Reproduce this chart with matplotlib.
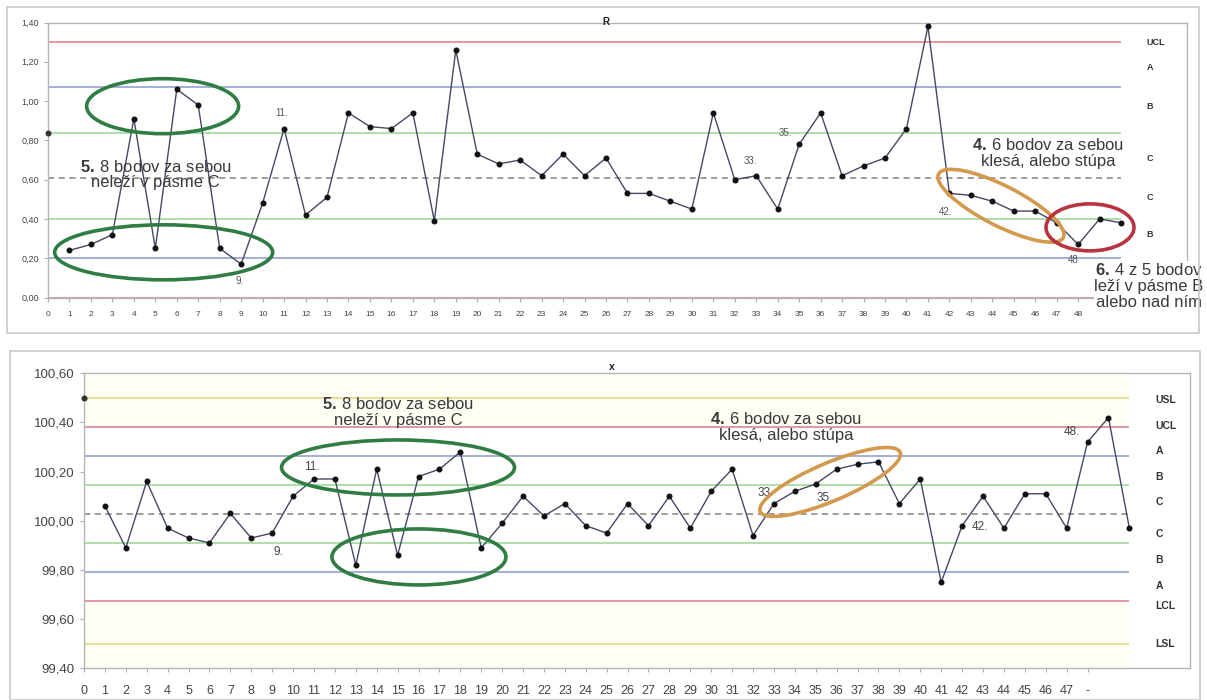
import matplotlib
matplotlib.use("Agg")
import matplotlib.pyplot as plt
from matplotlib.patches import Ellipse, Rectangle
from matplotlib.transforms import ScaledTranslation
from matplotlib.ticker import FuncFormatter

plt.rcParams["font.family"] = ["Liberation Sans", "DejaVu Sans"]
plt.rcParams["mathtext.fontset"] = "custom"
plt.rcParams["mathtext.rm"] = "Liberation Sans"
plt.rcParams["mathtext.bf"] = "Liberation Sans:bold"

# ---- data: R chart ----
r_vals = [0.24, 0.27, 0.32, 0.91, 0.25, 1.06, 0.98, 0.25, 0.17, 0.48,
          0.86, 0.42, 0.51, 0.94, 0.87, 0.86, 0.94, 0.39, 1.26, 0.73,
          0.68, 0.70, 0.62, 0.73, 0.62, 0.71, 0.53, 0.53, 0.49, 0.45,
          0.94, 0.60, 0.62, 0.45, 0.78, 0.94, 0.62, 0.67, 0.71, 0.86,
          1.38, 0.53, 0.52, 0.49, 0.44, 0.44, 0.38, 0.27, 0.40, 0.38]
r_start = 0.84
r_levels = [1.30, 1.07, 0.84, 0.61, 0.40, 0.20, 0.00]
r_level_kind = ["cl", "ab", "bc", "c", "bc", "ab", "cl"]
r_zone_names = ["UCL", "A", "B", "C", "C", "B"]
r_zone_y = [1.30, 1.17, 0.97, 0.71, 0.51, 0.32]

# ---- data: x chart ----
x_vals = [100.06, 99.89, 100.16, 99.97, 99.93, 99.91, 100.03, 99.93, 99.95, 100.10,
          100.17, 100.17, 99.82, 100.21, 99.86, 100.18, 100.21, 100.28, 99.89, 99.99,
          100.10, 100.02, 100.07, 99.98, 99.95, 100.07, 99.98, 100.10, 99.97, 100.12,
          100.21, 99.94, 100.07, 100.12, 100.15, 100.21, 100.23, 100.24, 100.07, 100.17,
          99.75, 99.98, 100.10, 99.97, 100.11, 100.11, 99.97, 100.32, 100.42, 99.97]
x_start = 100.50
x_levels = [100.50, 100.383, 100.265, 100.147, 100.027, 99.908, 99.79, 99.672, 99.50]
x_level_kind = ["sl", "cl", "ab", "bc", "c", "bc", "ab", "cl", "sl"]
x_zone_names = ["USL", "UCL", "A", "B", "C", "C", "B", "A", "LCL", "LSL"]
x_zone_y = [100.49, 100.386, 100.284, 100.178, 100.076, 99.946, 99.84, 99.734, 99.653, 99.499]

n_pts = len(r_vals)
idx = list(range(1, n_pts + 1))

kind_style = {
    "cl": dict(color="#e08f98", lw=1.3, ls="-"),
    "ab": dict(color="#9ea8d4", lw=1.3, ls="-"),
    "bc": dict(color="#a9dca4", lw=1.3, ls="-"),
    "c": dict(color="#8c7f7f", lw=1.1, ls=(0, (4, 3))),
    "sl": dict(color="#e6df9c", lw=1.5, ls="-"),
}

fig = plt.figure(figsize=(12.07, 7.0), dpi=100)
fig.patch.set_facecolor("white")

# outer chart frames
fig.add_artist(Rectangle((7 / 1207, 1 - 333 / 700), 1192 / 1207, 326 / 700,
                         transform=fig.transFigure, fill=False, ec="#c8c8c8", lw=1.2))
fig.add_artist(Rectangle((10 / 1207, 0.0), 1190 / 1207, 349 / 700,
                         transform=fig.transFigure, fill=False, ec="#c8c8c8", lw=1.2))

ax1 = fig.add_axes([48 / 1207, 1 - 297.5 / 700, (1187 - 48) / 1207, 275 / 700])
ax2 = fig.add_axes([84 / 1207, 1 - 668.3 / 700, (1190 - 84) / 1207, 295 / 700])

comma = FuncFormatter(lambda v, p: f"{v:.2f}".replace(".", ","))
txt_col = "#3a3a3a"


def ellipse(ax, xc, yc, w_px, h_px, angle, color, lw=2.6):
    tr = fig.dpi_scale_trans + ScaledTranslation(xc, yc, ax.transData)
    e = Ellipse((0, 0), w_px / 100, h_px / 100, angle=angle, transform=tr,
                fill=False, ec=color, lw=lw, zorder=6, clip_on=False)
    fig.add_artist(e)


for ax, vals, start, levels, kinds, zn, zy, ylim, xmax in [
        (ax1, r_vals, r_start, r_levels, r_level_kind, r_zone_names, r_zone_y, (0, 1.40), 53.07),
        (ax2, x_vals, x_start, x_levels, x_level_kind, x_zone_names, x_zone_y, (99.40, 100.60), 52.9)]:
    ax.set_xlim(0, xmax)
    ax.set_ylim(*ylim)
    for y, k in zip(levels, kinds):
        ax.hlines(y, 0, n_pts, zorder=1, **kind_style[k])
    ax.plot(idx, vals, color="#454866", lw=1.0, marker="o", ms=3.3,
            mfc="#111111", mec="#111111", zorder=4)
    ax.plot([0], [start], "o", ms=3.3, color="#333333", zorder=4, clip_on=False)
    for s in ax.spines.values():
        s.set_color("#b5b5b5")
        s.set_linewidth(1.0)
    ax.yaxis.set_major_formatter(comma)
    ax.tick_params(colors="#b0b0b0", labelcolor="#444444", length=3, width=0.8)
    zfs = 6.5 if ax is ax1 else 7.5
    zx = 51.2 if ax is ax1 else 51.24
    for name, y in zip(zn, zy):
        ax.text(zx, y, name, fontsize=zfs, fontweight="bold", color="#333333",
                va="center", ha="left")

# faint background tint on the x chart
for lo, hi in [(x_levels[0], 100.60), (x_levels[1], x_levels[0]),
               (99.40, x_levels[-1]), (x_levels[-1], x_levels[-2])]:
    ax2.axhspan(lo, hi, xmin=0, xmax=n_pts / 52.9, color="#fffef5", zorder=0, lw=0)

# ticks
ax1.set_yticks([0, 0.2, 0.4, 0.6, 0.8, 1.0, 1.2, 1.4])
ax1.set_xticks(range(0, 49))
ax1.set_xticklabels([str(i) for i in range(0, 49)])
ax1.tick_params(axis="y", labelsize=6.5)
ax1.tick_params(axis="x", labelsize=6, pad=7)

ax2.set_yticks([99.4, 99.6, 99.8, 100.0, 100.2, 100.4, 100.6])
ax2.set_xticks(range(0, 49))
ax2.set_xticklabels([str(i) for i in range(0, 48)] + ["-"])
ax2.tick_params(axis="y", labelsize=9.5)
ax2.tick_params(axis="x", labelsize=9, pad=9)

# titles
ax1.text(26.0, 1.403, "R", fontsize=7, fontweight="bold", ha="center", va="center",
         color="#222222")
ax2.text(25.26, 100.626, "x", fontsize=7.5, fontweight="bold", ha="center", va="center",
         color="#222222", clip_on=False)

# ---- annotations, R chart ----
ax1.text(5.01, 0.627, "$\\mathbf{5.}\\,$8 bodov za sebou\nneleží v pásme C", fontsize=12,
         ha="center", va="center", color=txt_col, linespacing=1.05, zorder=7)
ax1.text(46.6, 0.737, "$\\mathbf{4.}\\,$6 bodov za sebou\nklesá, alebo stúpa", fontsize=12,
         ha="center", va="center", color=txt_col, linespacing=1.05, zorder=7)
ax1.text(51.3, 0.058, "$\\mathbf{6.}\\,$4 z 5 bodov\nleží v pásme B\nalebo nad ním", fontsize=12,
         ha="center", va="center", color=txt_col, linespacing=1.08, zorder=7,
         clip_on=False, bbox=dict(fc="white", ec="none", pad=0.5))
for s, x, y in [("9.", 8.94, 0.084), ("11.", 10.89, 0.941), ("33.", 32.73, 0.696),
                ("35.", 34.36, 0.839), ("42.", 41.83, 0.436), ("48", 47.76, 0.191)]:
    ax1.text(x, y, s, fontsize=7, color="#555555", ha="center", va="center", zorder=5)

ellipse(ax1, 5.34, 0.974, 152, 55, 0, "#2f7d43")
ellipse(ax1, 5.39, 0.230, 218, 55, 0, "#2f7d43")
ellipse(ax1, 44.4, 0.467, 140, 40, -27, "#d39a4e")
ellipse(ax1, 48.55, 0.357, 88, 47, 0, "#b8343f")

# ---- annotations, x chart ----
ax2.text(15.02, 100.443, "$\\mathbf{5.}\\,$8 bodov za sebou\nneleží v pásme C", fontsize=12,
         ha="center", va="center", color=txt_col, linespacing=1.05, zorder=7)
ax2.text(33.59, 100.382, "$\\mathbf{4.}\\,$6 bodov za sebou\nklesá, alebo stúpa", fontsize=12,
         ha="center", va="center", color=txt_col, linespacing=1.05, zorder=7)
for s, x, y in [("11.", 10.9, 100.219), ("9.", 9.28, 99.873), ("33.", 32.58, 100.113),
                ("35.", 35.45, 100.093), ("42.", 42.86, 99.975), ("48.", 47.27, 100.361)]:
    ax2.text(x, y, s, fontsize=8.5, color="#444444", ha="center", va="center", zorder=5)

ellipse(ax2, 15.02, 100.217, 233, 55, 0, "#2f7d43")
ellipse(ax2, 16.02, 99.853, 174, 56, 0, "#2f7d43")
ellipse(ax2, 35.69, 100.158, 152, 38, 23, "#d39a4e")

fig.savefig("out.png", dpi=100)
